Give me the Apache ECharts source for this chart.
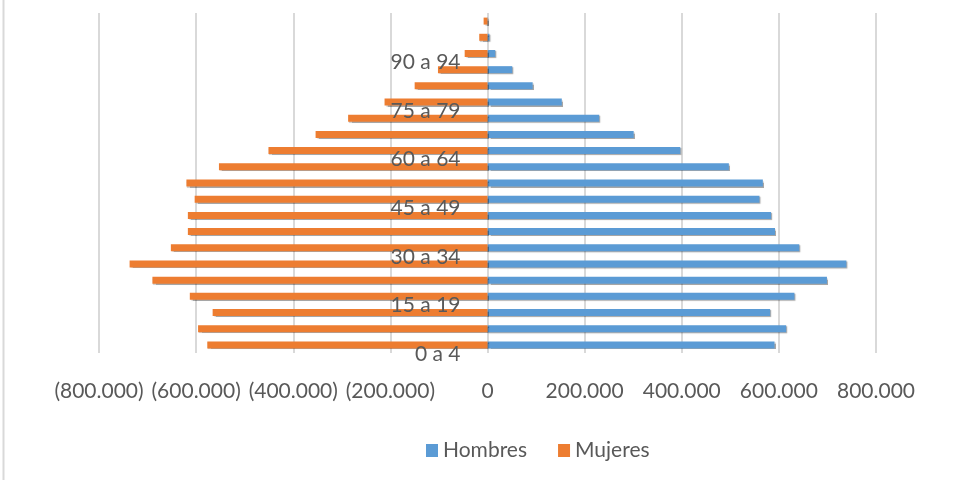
<!DOCTYPE html>
<html>
<head>
<meta charset="utf-8">
<style>
  html, body { margin: 0; padding: 0; background: #ffffff; }
  #chart { width: 962px; height: 480px; }
</style>
<script src="https://cdn.jsdelivr.net/npm/echarts@6/dist/echarts.min.js"></script>
</head>
<body>
<div id="chart"></div>
<script>
// Age groups, youngest first (bottom of the pyramid)
const ageGroups = [
  '0 a 4', '5 a 9', '10 a 14', '15 a 19', '20 a 24', '25 a 29', '30 a 34',
  '35 a 39', '40 a 44', '45 a 49', '50 a 54', '55 a 59', '60 a 64', '65 a 69',
  '70 a 74', '75 a 79', '80 a 84', '85 a 89', '90 a 94', '95 a 99', '100 y más'
];

// Population by age group
const hombres = [
  591000, 615000, 582000, 632000, 699000, 739000, 642000,
  592000, 584000, 560000, 567000, 497000, 397000, 301000,
  230000, 153000, 93000, 51000, 16000, 4000, 1000
];
const mujeres = [
  577000, 596000, 566000, 613000, 690000, 737000, 652000,
  617000, 617000, 603000, 620000, 553000, 451000, 354000,
  287000, 212000, 150000, 102000, 47000, 17000, 8000
];

// Value axis ticks
const axisMin = -800000;
const axisMax = 800000;
const axisStep = 200000;

const FONT = 'Lato';
const TEXT = '#595959';

// Plot area
const GRID_LEFT = 99;
const GRID_RIGHT = 86;
const CHART_W = 962;
const plotWidth = CHART_W - GRID_LEFT - GRID_RIGHT;
// distance from the left edge of the plot to the zero line
const zeroShift = plotWidth * (0 - axisMin) / (axisMax - axisMin);

function thousands(n) {
  return String(Math.round(n)).replace(/\B(?=(\d{3})+(?!\d))/g, '.');
}
function tickLabel(v) {
  if (v === 0) return '0';
  return v < 0 ? '(' + thousands(-v) + ')' : thousands(v);
}

const chart = echarts.init(document.getElementById('chart'));

const barShadow = {
  shadowColor: 'rgba(0,0,0,0.35)',
  shadowBlur: 1,
  shadowOffsetX: 1,
  shadowOffsetY: 1
};

chart.setOption({
  backgroundColor: '#ffffff',
  animation: false,
  textStyle: { fontFamily: FONT },
  graphic: [{
    type: 'line',
    shape: { x1: 3.5, y1: 0, x2: 3.5, y2: 480 },
    style: { stroke: '#d9d9d9', lineWidth: 2 }
  }],
  grid: {
    left: GRID_LEFT,
    right: GRID_RIGHT,
    top: 13,
    bottom: 127,
    containLabel: false
  },
  legend: {
    data: ['Hombres', 'Mujeres'],
    bottom: 14,
    left: 421,
    itemWidth: 12,
    itemHeight: 13,
    itemGap: 31,
    icon: 'rect',
    textStyle: { fontFamily: FONT, fontSize: 21, color: TEXT }
  },
  xAxis: {
    type: 'value',
    min: axisMin,
    max: axisMax,
    interval: axisStep,
    axisLine: { show: false },
    axisTick: { show: false },
    splitLine: { show: true, lineStyle: { color: '#d9d9d9', width: 2 } },
    axisLabel: {
      formatter: tickLabel,
      fontFamily: FONT,
      fontSize: 21,
      color: TEXT,
      margin: 28
    }
  },
  yAxis: {
    type: 'category',
    data: ageGroups,
    position: 'left',
    offset: -zeroShift,
    z: 10,
    axisLine: { show: false },
    axisTick: { show: false },
    splitLine: { show: false },
    axisLabel: {
      interval: 2,
      fontFamily: FONT,
      fontSize: 21,
      color: TEXT,
      margin: 27,
      verticalAlign: 'top',
      lineHeight: 18
    }
  },
  series: [
    {
      name: 'Hombres',
      type: 'bar',
      stack: 'pob',
      barWidth: 7,
      data: hombres,
      itemStyle: Object.assign({ color: '#5b9bd5' }, barShadow)
    },
    {
      name: 'Mujeres',
      type: 'bar',
      stack: 'pob',
      barWidth: 7,
      data: mujeres.map(v => -v),
      itemStyle: Object.assign({ color: '#ed7d31' }, barShadow)
    }
  ]
});
</script>
</body>
</html>
